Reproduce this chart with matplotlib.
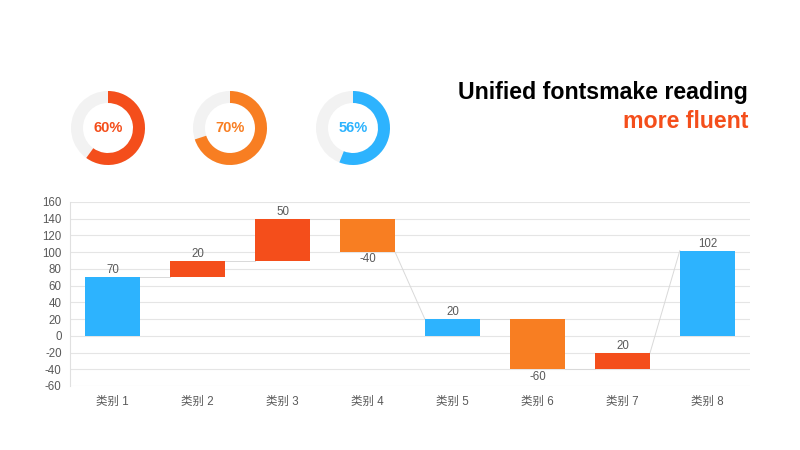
import matplotlib
matplotlib.use("Agg")
import matplotlib.pyplot as plt
from matplotlib.patches import Wedge

plt.rcParams['font.family'] = ['Liberation Sans', 'Noto Sans CJK SC', 'DejaVu Sans']
plt.rcParams['axes.unicode_minus'] = False

categories = ['类别 1', '类别 2', '类别 3', '类别 4', '类别 5', '类别 6', '类别 7', '类别 8']
bar_bottoms = [0, 70, 90, 140, 0, 20, -40, 0]
bar_changes = [70, 20, 50, -40, 20, -60, 20, 102]
is_total = [True, False, False, False, True, False, False, True]
bar_colors = ['#2DB3FE', '#F44E1B', '#F44E1B', '#F87E22', '#2DB3FE', '#F87E22', '#F44E1B', '#2DB3FE']

donut_values = [60, 70, 56]
donut_colors = ['#F44E1B', '#F87E22', '#2DB3FE']
donut_labels = ['60%', '70%', '56%']

title_line1 = 'Unified fontsmake reading'
title_line2 = 'more fluent'

W, H = 800, 450
fig = plt.figure(figsize=(8, 4.5), dpi=100)

# main chart axes: x 70..750, y 202..386
ax = fig.add_axes([70 / W, 1 - 386 / H, 680 / W, (386 - 202) / H])
n = len(categories)
xs = list(range(n))
bw = 0.65
ax.bar(xs, bar_changes, bottom=bar_bottoms, width=bw, color=bar_colors, zorder=3)
ax.set_xlim(-0.5, n - 0.5)
ax.set_ylim(-60, 160)
ax.set_yticks(range(-60, 161, 20))
ax.set_xticks(xs)
ax.set_xticklabels(categories)
ax.yaxis.grid(True, color='#E5E5E5', linewidth=0.8, zorder=0)
ax.set_axisbelow(True)
for s in ['top', 'right', 'bottom']:
    ax.spines[s].set_visible(False)
ax.spines['left'].set_color('#E0E0E0')
ax.tick_params(axis='both', length=0, colors='#595959', labelsize=8.3)
ax.tick_params(axis='y', pad=6)
ax.tick_params(axis='x', pad=7)

# connectors
for i in range(n - 1):
    end_i = bar_bottoms[i] + bar_changes[i]
    nxt = bar_bottoms[i + 1] + bar_changes[i + 1] if is_total[i + 1] else bar_bottoms[i + 1]
    ax.plot([i + bw / 2, i + 1 - bw / 2], [end_i, nxt], color='#D9D9D9', linewidth=0.7, zorder=2)

# value labels
for i in range(n):
    b = bar_bottoms[i]
    v = bar_changes[i]
    if v >= 0:
        ax.text(i, b + v + 1.2, f'{v}', ha='center', va='bottom', fontsize=8.3, color='#595959')
    else:
        ax.text(i, b + v - 1.5, f'{v}', ha='center', va='top', fontsize=8.3, color='#595959')

# donuts
centers = [(108, 128), (230, 128), (353, 128)]
R_out, R_in = 37, 25
for (cx, cy), val, col, lab in zip(centers, donut_values, donut_colors, donut_labels):
    dax = fig.add_axes([(cx - 40) / W, 1 - (cy + 40) / H, 80 / W, 80 / H])
    dax.set_xlim(-40, 40)
    dax.set_ylim(-40, 40)
    dax.set_aspect('equal')
    dax.axis('off')
    dax.add_patch(Wedge((0, 0), R_out, 0, 360, width=R_out - R_in, color='#F2F2F2', linewidth=0))
    dax.add_patch(Wedge((0, 0), R_out, 90 - 360 * val / 100, 90, width=R_out - R_in, color=col, linewidth=0))
    dax.text(0, 0, lab, ha='center', va='center', fontsize=10.5, fontweight='bold', color=col)

fig.text(748 / W, 1 - 93 / H, title_line1, ha='right', va='center', fontsize=16.7, fontweight='bold', color='#000000')
fig.text(748 / W, 1 - 122 / H, title_line2, ha='right', va='center', fontsize=16.7, fontweight='bold', color='#F44E1B')

fig.savefig('out.png', dpi=100)
